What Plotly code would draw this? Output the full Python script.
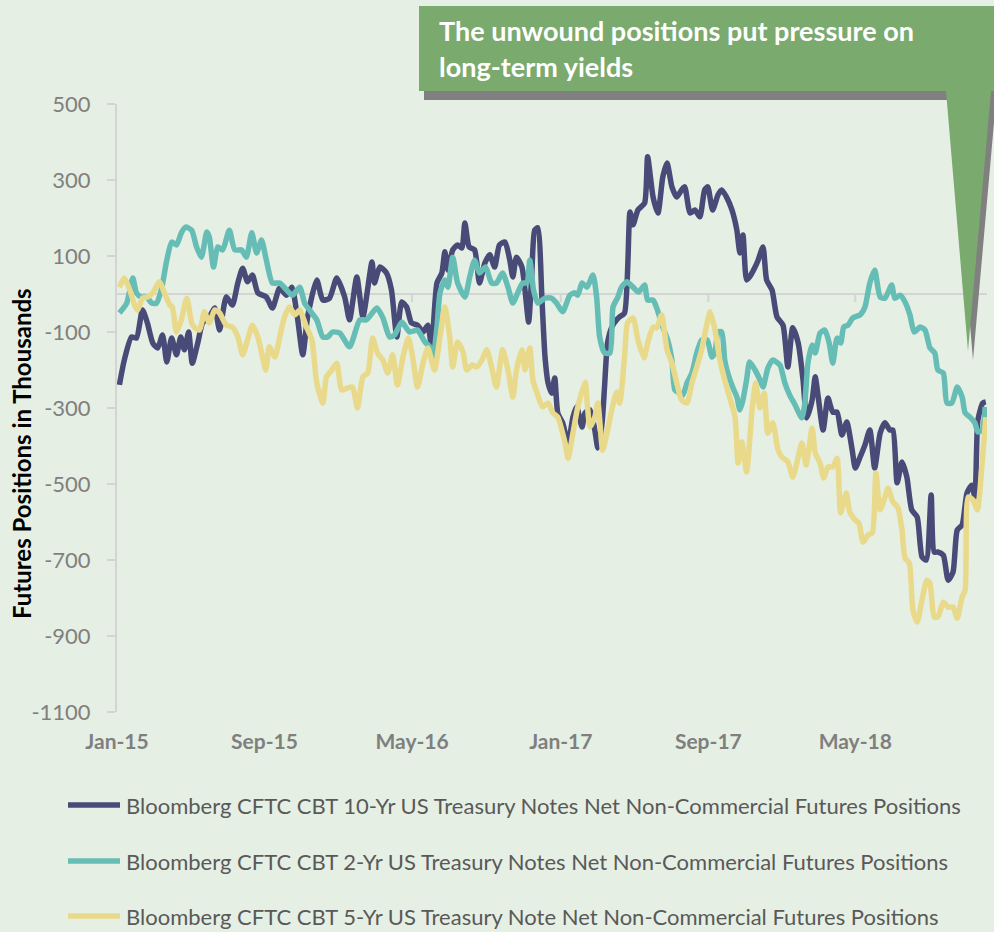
import pandas as pd
import plotly.graph_objects as go

START = pd.Timestamp("2015-01-01")

# Observation dates as day offsets from 2015-01-01, values in thousands of contracts
days_10yr = [4, 12, 24, 32, 42, 50, 59, 67, 75, 82, 90, 98, 105, 111, 118, 124, 133, 141, 152, 161,
             169, 180, 190, 199, 207, 215, 223, 232, 246, 256, 268, 279, 288, 297, 306, 314, 329, 339, 350, 362,
             375, 383, 395, 405, 420, 424, 433, 444, 452, 461, 469, 477, 485, 495, 504, 512, 518, 527, 535, 540,
             545, 553, 561, 568, 573, 580, 589, 597, 606, 614, 622, 630, 639, 647, 652, 658, 667, 672, 678, 683,
             688, 693, 700, 705, 710, 716, 721, 726, 734, 743, 751, 757, 766, 771, 779, 787, 792, 799, 803, 808,
             815, 823, 828, 836, 845, 850, 858, 869, 874, 883, 891, 899, 906, 914, 922, 930, 935, 944, 952, 960,
             968, 973, 981, 990, 996, 1004, 1013, 1021, 1026, 1031, 1037, 1042, 1051, 1056, 1064, 1070, 1079, 1087, 1097, 1105,
             1113, 1122, 1130, 1136, 1145, 1150, 1155, 1163, 1171, 1179, 1186, 1194, 1202, 1211, 1216, 1224, 1232, 1240, 1248, 1257,
             1265, 1273, 1278, 1285, 1293, 1301, 1309, 1318, 1326, 1333, 1341, 1346, 1352, 1361, 1369, 1377, 1384, 1392, 1400, 1408,
             1413, 1418, 1426, 1431]
pos_10yr = [-239, -174, -113, -116, -42, -76, -129, -142, -108, -179, -116, -160, -113, -147, -100, -182, -129, -76, -60, -37,
            -95, -8, -29, 29, 68, 32, 50, 3, -8, -37, 16, -3, 18, -60, -160, -60, 37, -16, -11, 42,
            -8, -68, 45, -60, 84, 29, 71, 55, 11, -113, -21, -34, -76, -82, -100, -82, -139, 29, 55, 111,
            63, 116, 129, 121, 187, 124, 116, 29, 82, 103, 71, 129, 137, 89, 45, 97, 71, 11, -74, 45,
            168, 174, -16, -166, -234, -261, -221, -313, -339, -392, -324, -297, -350, -313, -305, -358, -405, -339, -245, -129,
            -87, -68, -60, -50, 216, 182, 221, 239, 361, 255, 213, 308, 345, 282, 255, 274, 282, 213, 221, 203,
            274, 282, 221, 261, 274, 255, 221, 168, 108, 155, 37, 45, 71, 89, 124, 37, 10, -60, -82, -192,
            -89, -129, -226, -326, -279, -218, -271, -358, -274, -311, -311, -371, -337, -411, -458, -429, -397, -358, -458, -366,
            -339, -358, -358, -497, -442, -482, -568, -587, -692, -700, -529, -679, -679, -687, -753, -732, -621, -608, -524, -503,
            -534, -332, -287, -284]

days_2yr = [4, 16, 26, 32, 40, 49, 57, 65, 73, 82, 90, 98, 106, 113, 123, 131, 139, 148, 152, 159,
            166, 174, 185, 194, 205, 213, 222, 230, 238, 246, 256, 268, 279, 289, 301, 309, 317, 329, 339, 347,
            355, 367, 383, 400, 411, 428, 438, 449, 457, 469, 482, 495, 507, 515, 520, 527, 532, 540, 545, 553,
            561, 573, 581, 589, 597, 607, 617, 625, 635, 644, 652, 660, 668, 675, 680, 686, 693, 705, 716, 724,
            734, 746, 754, 759, 766, 774, 784, 790, 795, 803, 812, 817, 825, 831, 840, 850, 859, 869, 874, 883,
            889, 899, 907, 914, 919, 927, 932, 939, 947, 955, 963, 972, 980, 985, 990, 996, 1001, 1006, 1014, 1021,
            1026, 1031, 1037, 1042, 1051, 1059, 1064, 1072, 1080, 1092, 1100, 1108, 1117, 1128, 1133, 1138, 1145, 1150, 1158, 1166,
            1173, 1179, 1186, 1192, 1197, 1204, 1212, 1224, 1232, 1240, 1248, 1257, 1265, 1276, 1281, 1290, 1298, 1306, 1313, 1323,
            1331, 1339, 1347, 1352, 1361, 1367, 1375, 1384, 1392, 1397, 1405, 1413, 1418, 1425, 1430]
pos_2yr = [-50, -24, 42, 3, -8, -8, -24, -24, 11, 89, 137, 129, 161, 176, 168, 124, 97, 163, 150, 71,
           124, 116, 168, 116, 116, 97, 161, 108, 142, 89, 29, 29, 11, -3, 18, -24, -42, -68, -113, -113,
           -100, -103, -139, -68, -68, -37, -63, -113, -108, -74, -100, -95, -126, -139, -174, -87, 3, 37, 18, 97,
           29, -8, 45, 89, 55, 71, 29, 29, 55, 18, -24, 3, 29, 29, 89, 11, -24, -11, -11, -24,
           -47, -3, 3, -3, 29, 18, 50, -8, -113, -155, -155, -34, -8, 18, 32, 18, 5, 24, -16, -16,
           -37, -87, -121, -174, -253, -261, -266, -234, -208, -155, -121, -121, -166, -153, -100, -100, -174, -208, -245, -271,
           -305, -279, -226, -179, -200, -226, -245, -195, -174, -187, -234, -266, -292, -326, -287, -182, -134, -155, -103, -95,
           -129, -182, -116, -129, -87, -82, -63, -55, -34, 29, 63, -8, -11, 24, -11, -3, -21, -55, -100, -87,
           -95, -142, -155, -200, -208, -287, -287, -245, -271, -313, -324, -339, -363, -358, -297]

days_5yr = [4, 12, 21, 29, 34, 42, 50, 59, 70, 78, 87, 91, 98, 106, 115, 123, 128, 136, 144, 152,
            161, 169, 180, 190, 199, 207, 215, 223, 232, 240, 245, 251, 260, 268, 276, 284, 293, 301, 312, 321,
            329, 339, 345, 354, 362, 370, 380, 388, 396, 405, 413, 421, 429, 438, 446, 454, 462, 471, 480, 487,
            495, 504, 512, 523, 532, 540, 548, 553, 561, 570, 576, 585, 593, 601, 609, 617, 625, 635, 644, 652,
            658, 667, 672, 680, 685, 693, 701, 710, 718, 726, 738, 743, 751, 759, 771, 775, 779, 787, 792, 800,
            807, 815, 823, 828, 836, 841, 850, 858, 868, 874, 883, 889, 897, 906, 914, 922, 930, 939, 947, 955,
            963, 972, 977, 985, 993, 1001, 1009, 1018, 1023, 1029, 1037, 1046, 1052, 1059, 1066, 1072, 1080, 1089, 1095, 1105,
            1113, 1122, 1128, 1135, 1145, 1150, 1158, 1164, 1171, 1179, 1186, 1192, 1201, 1207, 1216, 1222, 1229, 1237, 1244, 1250,
            1257, 1265, 1270, 1278, 1286, 1293, 1298, 1305, 1311, 1318, 1326, 1334, 1339, 1346, 1352, 1361, 1369, 1377, 1384, 1392,
            1397, 1402, 1410, 1417, 1425, 1431]
pos_5yr = [18, 42, 11, -29, -42, -11, -8, 3, 32, 3, -29, -34, -100, -68, -11, -76, -89, -95, -47, -76,
           -42, -50, -82, -87, -113, -160, -121, -82, -113, -168, -200, -139, -166, -113, -60, -34, -55, -42, -87, -121,
           -234, -287, -218, -200, -182, -253, -247, -245, -300, -218, -208, -116, -155, -174, -208, -160, -239, -166, -116, -166,
           -245, -182, -142, -200, -113, -34, -113, -192, -126, -153, -200, -187, -192, -174, -147, -192, -245, -147, -200, -271,
           -200, -147, -200, -142, -226, -266, -297, -287, -313, -324, -392, -432, -366, -297, -232, -297, -350, -324, -287, -411,
           -366, -305, -258, -287, -166, -76, -63, -121, -168, -129, -87, -89, -55, -147, -182, -234, -279, -287, -234, -192,
           -147, -76, -47, -95, -174, -226, -271, -324, -445, -389, -468, -305, -234, -300, -261, -366, -339, -411, -429, -442,
           -482, -429, -392, -450, -353, -418, -445, -484, -455, -455, -432, -576, -524, -574, -595, -603, -653, -634, -629, -471,
           -568, -534, -511, -547, -561, -621, -695, -708, -832, -863, -805, -753, -761, -850, -850, -811, -824, -824, -853, -797,
           -779, -534, -542, -568, -445, -324]

series_names = [
    "Bloomberg CFTC CBT 10-Yr US Treasury Notes Net Non-Commercial Futures Positions",
    "Bloomberg CFTC CBT 2-Yr US Treasury Notes Net Non-Commercial Futures Positions",
    "Bloomberg CFTC CBT 5-Yr US Treasury Note Net Non-Commercial Futures Positions",
]
tick_dates = ["2015-01-01", "2015-09-01", "2016-05-01", "2017-01-01", "2017-09-01", "2018-05-01"]
tick_labels = ["Jan-15", "Sep-15", "May-16", "Jan-17", "Sep-17", "May-18"]
y_ticks = [500, 300, 100, -100, -300, -500, -700, -900, -1100]
y_tick_labels = ["500", "300", "100", "-100", "-300", "-500", "-700", "-900", "-1100"]
callout_lines = ["The unwound positions put pressure on", "long-term yields"]
y_title = "Futures Positions in Thousands"

NAVY = "#484A78"
TEAL = "#66BDB6"
YELLOW = "#E9DA8B"
COLORS = [NAVY, TEAL, YELLOW]
BG = "#E5EFE3"
GREEN = "#7AAA6E"
SHADOW = "#808080"
AXIS = "#D4D4D4"
FONT = "Lato"

W, H = 994, 932
ML, MR, MT, MB = 117, 7, 104, 220
PW, PH = W - ML - MR, H - MT - MB


def px(xp):
    return (xp - ML) / PW


def py(yp):
    return (H - MB - yp) / PH


def to_dates(days):
    return [START + pd.Timedelta(days=d) for d in days]


fig = go.Figure()
for i, (d, v) in enumerate([(days_10yr, pos_10yr), (days_2yr, pos_2yr), (days_5yr, pos_5yr)]):
    fig.add_trace(go.Scatter(
        x=to_dates(d), y=v, mode="lines", name=series_names[i], showlegend=False,
        line=dict(color=COLORS[i], width=5.5, shape="spline", smoothing=0.6),
    ))

shapes = []
# small tick marks on the zero line
for t in tick_dates[1:]:
    shapes.append(dict(type="line", xref="x", yref="y", x0=t, x1=t, ysizemode="pixel", yanchor=0,
                       y0=0, y1=-8, line=dict(color=AXIS, width=2), layer="below"))


def poly(pts):
    return "M " + " L ".join(f"{px(a):.5f},{py(b):.5f}" for a, b in pts) + " Z"


shadow_pts = [(424, 15), (1000, 15), (1000, 100), (996, 100), (973, 360), (951, 100), (424, 100)]
green_pts = [(419, 6), (995, 6), (995, 91), (991, 91), (968, 351), (946, 91), (419, 91)]
shapes.append(dict(type="path", xref="paper", yref="paper", path=poly(shadow_pts),
                   fillcolor=SHADOW, line=dict(width=0), layer="above"))
shapes.append(dict(type="path", xref="paper", yref="paper", path=poly(green_pts),
                   fillcolor=GREEN, line=dict(width=0), layer="above"))

annotations = [
    dict(text=callout_lines[0], xref="paper", yref="paper", x=px(437), y=py(31), xanchor="left", yanchor="middle",
         showarrow=False, font=dict(family=FONT, size=27, color="white", weight="bold")),
    dict(text=callout_lines[1], xref="paper", yref="paper", x=px(437), y=py(66), xanchor="left", yanchor="middle",
         showarrow=False, font=dict(family=FONT, size=27, color="white", weight="bold")),
    dict(text=y_title, xref="paper", yref="paper", x=px(22), y=py(454), xanchor="center", yanchor="middle",
         textangle=-90, showarrow=False, font=dict(family=FONT, size=24, color="black", weight="bold")),
]

# legend, drawn below the plot
legend_rows = [805, 861, 916]
for i, row in enumerate(legend_rows):
    shapes.append(dict(type="line", xref="paper", yref="paper", x0=px(68), x1=px(120), y0=py(row), y1=py(row),
                       line=dict(color=COLORS[i], width=5.5)))
    annotations.append(dict(text=series_names[i], xref="paper", yref="paper", x=px(124), y=py(row),
                            xanchor="left", yanchor="middle", showarrow=False,
                            font=dict(family=FONT, size=22, color="#595959")))

fig.update_layout(
    width=W, height=H,
    margin=dict(l=ML, r=MR, t=MT, b=MB),
    paper_bgcolor=BG, plot_bgcolor=BG,
    shapes=shapes, annotations=annotations,
    showlegend=False,
    xaxis=dict(type="date", range=[START, START + pd.Timedelta(days=1433)],
               tickvals=tick_dates, ticktext=tick_labels, showgrid=False, zeroline=False, showline=False,
               ticks="", ticklabelstandoff=15,
               tickfont=dict(family=FONT, size=21, color="#7F7F7F", weight="bold")),
    yaxis=dict(range=[-1100, 500], tickvals=y_ticks, ticktext=y_tick_labels, showgrid=False,
               zeroline=True, zerolinecolor=AXIS, zerolinewidth=2,
               showline=True, linecolor=AXIS, linewidth=2,
               ticks="outside", ticklen=8, tickwidth=2, tickcolor=AXIS, ticklabelstandoff=12,
               tickfont=dict(family=FONT, size=22, color="#7F7F7F")),
)

fig.write_html("out.html", config={"displayModeBar": False},
               post_script="document.body.style.margin='0';document.body.style.overflow='hidden';")
